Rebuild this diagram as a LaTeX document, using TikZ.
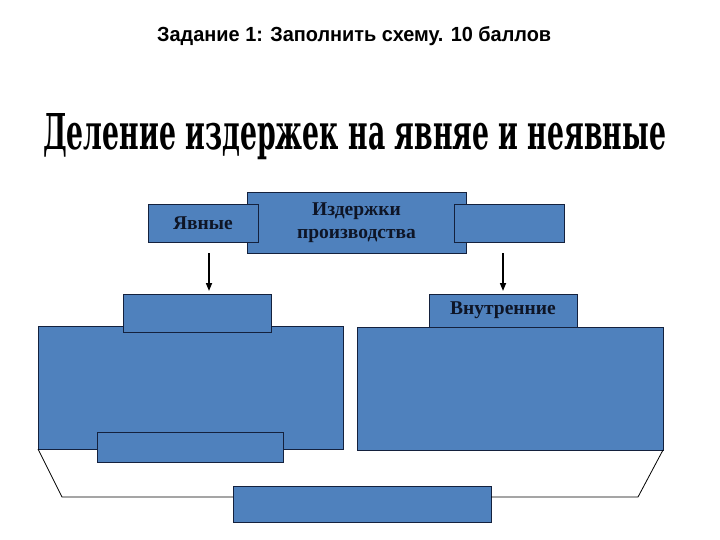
\documentclass[tikz,border=0pt]{standalone}
\usepackage{fontspec}
\setmainfont{Liberation Serif}
\setsansfont{Liberation Sans}
\newfontfamily\titlefont{DejaVu Serif}
\usetikzlibrary{arrows.meta}
\definecolor{boxblue}{HTML}{4F81BD}
\definecolor{boxline}{HTML}{14213D}
\definecolor{boxtext}{HTML}{0E1526}
\begin{document}
\begin{tikzpicture}[x=1pt,y=-1pt,
  bx/.style={draw=boxline, fill=boxblue, line width=0.9pt, inner sep=0pt, outer sep=0pt,
    anchor=north west, font=\fontsize{19.5}{23}\selectfont\bfseries, text=boxtext, align=center},
  arr/.style={-{Triangle[length=8pt,width=6pt]}, line width=1.6pt, black},
  link/.style={line width=0.8pt, black}]
\useasboundingbox (0,0) rectangle (720,540);
\fill[white] (0,0) rectangle (720,540);
\node[anchor=base west, inner sep=0pt] (task) at (157,42)
  {\resizebox{394pt}{15pt}{\sffamily\bfseries Задание 1: Заполнить схему. 10 баллов}};
\node[anchor=base west, inner sep=0pt] (title) at (43,150)
  {\resizebox{623pt}{36pt}{\titlefont\bfseries Деление издержек на явняе и неявные}};
% top row
\node[bx, minimum width=219pt, minimum height=61pt] (cost) at (247,192) {Издержки\\производства};
\node[bx, minimum width=110pt, minimum height=38pt] (expl) at (148,204) {Явные};
\node[bx, minimum width=110pt, minimum height=38pt] (impl) at (454,204) {};
% arrows
\coordinate (a1s) at (209,253);
\coordinate (a1e) at (209,291);
\coordinate (a2s) at (503,253);
\coordinate (a2e) at (503,291);
\draw[arr] (a1s) -- (a1e);
\draw[arr] (a2s) -- (a2e);
% big boxes
\node[bx, minimum width=305pt, minimum height=123pt] (lbig) at (38,326) {};
\node[bx, minimum width=306pt, minimum height=123pt] (rbig) at (357,327) {};
\node[bx, minimum width=148pt, minimum height=38pt] (ltop) at (123,294) {};
\node[bx, minimum width=148pt, minimum height=33pt] (inner) at (429,294) {Внутренние};
\node[bx, minimum width=186pt, minimum height=30pt] (lbot) at (97,432) {};
% bottom
\node[bx, minimum width=258pt, minimum height=36pt] (bot) at (233,486) {};
\coordinate (lk) at (62,497);
\coordinate (rk) at (638,497);
\draw[link] (lbig.south west) -- (lk) -- (lk -| bot.west);
\draw[link] (rk -| bot.east) -- (rk) -- (rbig.south east);
\end{tikzpicture}
\end{document}
